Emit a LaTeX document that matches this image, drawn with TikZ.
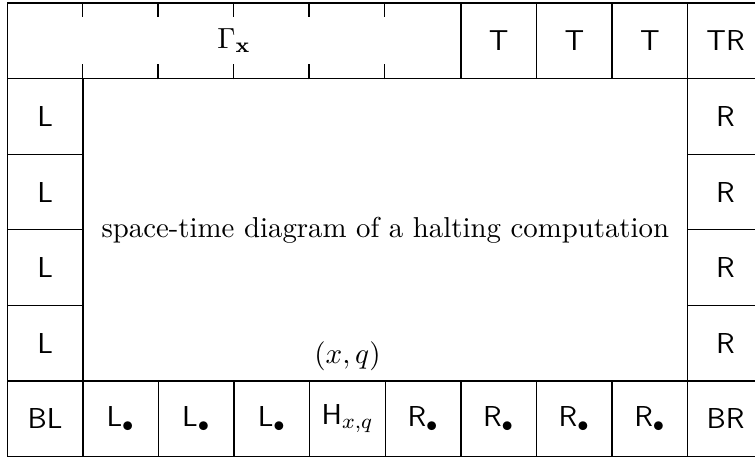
\documentclass[tikz,border=0pt]{standalone}
\usetikzlibrary{calc}
\begin{document}
\begin{tikzpicture}[x=1cm,y=1cm,
  every node/.style={font=\fontsize{10.84}{13}\selectfont},
  cellbox/.style={draw, line width=0.5pt, minimum width=1cm, minimum height=1cm, inner sep=0pt, font=\fontsize{10.84}{13}\selectfont\sffamily},
  bigbox/.style={draw, line width=0.5pt, inner sep=0pt},
  tick/.style={line width=0.5pt}]
\useasboundingbox (-0.0966,-0.013) rectangle (9.890,6.040);
% top row
\node[bigbox, minimum width=6cm, minimum height=1cm] (gamma) at (3,5.5) {$\Gamma_{\mathbf{x}}$};
\foreach \k in {1,...,5}{
  \draw[tick] ($(gamma.north west)+(\k,0)$) -- ++(0,-0.2);
  \draw[tick] ($(gamma.south west)+(\k,0)$) -- ++(0,0.2);
}
\node[cellbox] (t1) at (6.5,5.5) {T};
\node[cellbox] (t2) at (7.5,5.5) {T};
\node[cellbox] (t3) at (8.5,5.5) {T};
\node[cellbox] (tr) at (9.5,5.5) {TR};
% sides
\foreach \j/\n in {4/1,3/2,2/3,1/4}{
  \node[cellbox] (l\n) at (0.5,\j+0.5) {L};
  \node[cellbox] (r\n) at (9.5,\j+0.5) {R};
}
% middle
\node[bigbox, minimum width=8cm, minimum height=4cm] (st) at (5,3) {space-time diagram of a halting computation};
% bottom row
\node[cellbox] (bl) at (0.5,0.5) {BL};
\node[cellbox] (lb1) at (1.5,0.5) {L$_\bullet$};
\node[cellbox] (lb2) at (2.5,0.5) {L$_\bullet$};
\node[cellbox] (lb3) at (3.5,0.5) {L$_\bullet$};
\node[cellbox] (h) at (4.5,0.5) {H$_{x,q}$};
\node[cellbox] (rb1) at (5.5,0.5) {R$_\bullet$};
\node[cellbox] (rb2) at (6.5,0.5) {R$_\bullet$};
\node[cellbox] (rb3) at (7.5,0.5) {R$_\bullet$};
\node[cellbox] (rb4) at (8.5,0.5) {R$_\bullet$};
\node[cellbox] (br) at (9.5,0.5) {BR};
\node[above, inner sep=0.333em] (xq) at (h.north) {$(x,q)$};
\end{tikzpicture}
\end{document}
